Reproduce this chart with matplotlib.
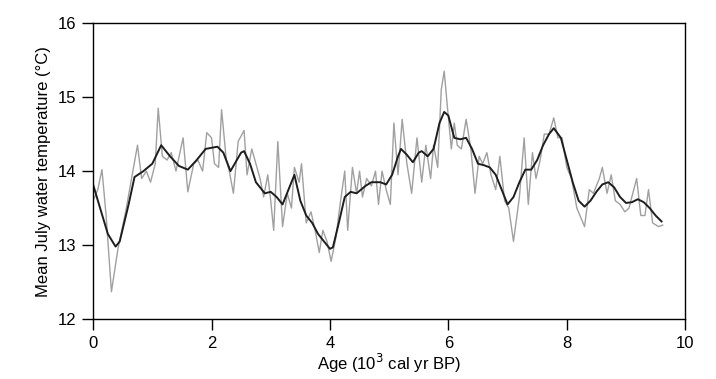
import matplotlib
matplotlib.use("Agg")
import matplotlib.pyplot as plt

plt.rcParams['font.family'] = ['Liberation Sans', 'DejaVu Sans']

# reconstrucción (línea gris): edad en 10^3 cal yr BP, temperatura en °C
age_raw = [0.0, 0.08, 0.15, 0.22, 0.31, 0.42, 0.55, 0.65, 0.75, 0.82, 0.9, 0.97,
           1.05, 1.1, 1.17, 1.25, 1.32, 1.4, 1.52, 1.6, 1.7, 1.77, 1.85, 1.92,
           2.0, 2.05, 2.12, 2.17, 2.25, 2.3, 2.37, 2.45, 2.55, 2.6, 2.68, 2.75,
           2.82, 2.88, 2.95, 3.0, 3.05, 3.12, 3.2, 3.28, 3.35, 3.4, 3.48, 3.52,
           3.6, 3.68, 3.75, 3.82, 3.88, 3.95, 4.02, 4.1, 4.18, 4.25, 4.3, 4.38,
           4.45, 4.5, 4.55, 4.62, 4.7, 4.77, 4.82, 4.88, 4.95, 5.02, 5.08, 5.15,
           5.22, 5.3, 5.38, 5.47, 5.55, 5.62, 5.7, 5.75, 5.82, 5.88, 5.93, 5.98,
           6.05, 6.1, 6.15, 6.22, 6.3, 6.38, 6.45, 6.52, 6.58, 6.65, 6.72, 6.8,
           6.87, 6.95, 7.02, 7.1, 7.2, 7.28, 7.35, 7.42, 7.48, 7.55, 7.62, 7.7,
           7.78, 7.85, 7.92, 8.0, 8.08, 8.17, 8.3, 8.38, 8.45, 8.55, 8.6, 8.68,
           8.75, 8.82, 8.9, 8.98, 9.05, 9.18, 9.25, 9.32, 9.38, 9.45, 9.55, 9.62]
temp_raw = [13.6, 13.75, 14.02, 13.4, 12.37, 12.95, 13.45, 13.9, 14.35, 13.9, 14.0, 13.85,
            14.1, 14.85, 14.2, 14.15, 14.25, 14.0, 14.45, 13.72, 14.1, 14.15, 14.0, 14.52,
            14.45, 14.1, 14.05, 14.83, 14.15, 14.0, 13.7, 14.4, 14.55, 13.95, 14.3, 14.1,
            13.9, 13.65, 13.95, 13.6, 13.2, 14.4, 13.25, 13.7, 13.5, 14.05, 13.85, 14.1,
            13.3, 13.45, 13.2, 12.9, 13.2, 13.05, 12.78, 13.1, 13.6, 14.0, 13.2, 14.05,
            13.7, 14.0, 13.65, 13.9, 13.8, 14.0, 13.55, 14.0, 13.75, 13.55, 14.65, 13.95,
            14.7, 14.1, 13.7, 14.45, 13.85, 14.35, 13.9, 14.35, 14.05, 15.1, 15.35, 14.9,
            14.3, 14.65, 14.35, 14.3, 14.7, 14.3, 13.7, 14.2, 14.1, 14.25, 13.95, 13.75,
            14.2, 13.6, 13.5, 13.05, 13.65, 14.45, 13.55, 14.25, 13.9, 14.15, 14.5, 14.5,
            14.72, 14.45, 14.45, 14.05, 13.9, 13.5, 13.25, 13.75, 13.7, 13.9, 14.05, 13.7,
            13.95, 13.6, 13.55, 13.45, 13.5, 13.9, 13.4, 13.4, 13.75, 13.3, 13.25, 13.27]

# curva suavizada (línea negra)
age_smooth = [0.0, 0.1, 0.25, 0.38, 0.45, 0.6, 0.7, 0.85, 1.0, 1.15, 1.3, 1.45,
              1.6, 1.75, 1.9, 2.1, 2.2, 2.32, 2.5, 2.55, 2.65, 2.75, 2.9, 3.0,
              3.1, 3.2, 3.3, 3.4, 3.5, 3.6, 3.7, 3.8, 3.9, 4.0, 4.05, 4.15,
              4.25, 4.35, 4.45, 4.6, 4.7, 4.85, 4.95, 5.05, 5.15, 5.2, 5.3, 5.4,
              5.5, 5.55, 5.65, 5.75, 5.85, 5.93, 6.0, 6.1, 6.2, 6.3, 6.4, 6.5,
              6.6, 6.7, 6.8, 6.9, 7.0, 7.1, 7.2, 7.3, 7.4, 7.5, 7.6, 7.7,
              7.78, 7.9, 8.0, 8.1, 8.2, 8.3, 8.4, 8.5, 8.6, 8.7, 8.8, 8.9,
              9.0, 9.1, 9.2, 9.3, 9.4, 9.5, 9.6]
temp_smooth = [13.82, 13.55, 13.15, 12.98, 13.05, 13.55, 13.92, 14.0, 14.1, 14.35, 14.2, 14.07,
               14.02, 14.15, 14.3, 14.33, 14.25, 14.0, 14.25, 14.27, 14.1, 13.85, 13.7, 13.72,
               13.65, 13.55, 13.75, 13.95, 13.6, 13.4, 13.3, 13.15, 13.05, 12.95, 12.97, 13.3,
               13.65, 13.72, 13.7, 13.8, 13.85, 13.85, 13.82, 13.95, 14.2, 14.3, 14.22, 14.12,
               14.25, 14.27, 14.2, 14.3, 14.65, 14.8, 14.75, 14.45, 14.43, 14.45, 14.3, 14.1,
               14.08, 14.05, 13.95, 13.75, 13.55, 13.65, 13.85, 14.02, 14.02, 14.15, 14.35, 14.5,
               14.58, 14.45, 14.15, 13.85, 13.6, 13.52, 13.6, 13.72, 13.82, 13.85, 13.78, 13.65,
               13.57, 13.58, 13.62, 13.58, 13.5, 13.4, 13.32]

fig = plt.figure(figsize=(7.16, 3.79), dpi=100)
ax = fig.add_axes([0.130, 0.158, 0.827, 0.781])

ax.plot(age_raw, temp_raw, color='#a0a0a0', lw=1.0)
ax.plot(age_smooth, temp_smooth, color='#1e1e1e', lw=1.4,
        solid_joinstyle='round')

ax.set_xlim(0, 10)
ax.set_ylim(12, 16)
ax.set_xticks([0, 2, 4, 6, 8, 10])
ax.set_yticks([12, 13, 14, 15, 16])
ax.tick_params(direction='out', length=8, width=1, labelsize=12, pad=4)
for s in ax.spines.values():
    s.set_linewidth(1.0)

ax.set_xlabel('Age (10$^3$ cal yr BP)', fontsize=12, labelpad=1)
ax.set_ylabel('Mean July water temperature (°C)', fontsize=12, labelpad=5)

fig.savefig('out.png', dpi=100)
